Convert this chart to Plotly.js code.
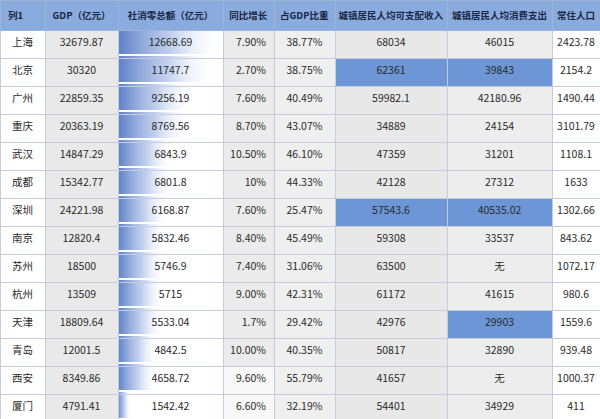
<!DOCTYPE html>
<html><head><meta charset="utf-8">
<script src="https://cdn.plot.ly/plotly-3.0.1.min.js"></script>
<style>html,body{margin:0;padding:0;background:#fff}#chart{width:600px;height:419px}</style>
</head><body><div id="chart"></div>
<script>
const headers = ['列1','GDP（亿元）','社消零总额（亿元）','同比增长','占GDP比重','城镇居民人均可支配收入','城镇居民人均消费支出','常住人口'];
const cities = ['上海','北京','广州','重庆','武汉','成都','深圳','南京','苏州','杭州','天津','青岛','西安','厦门'];
const gdp = ['32679.87','30320','22859.35','20363.19','14847.29','15342.77','24221.98','12820.4','18500','13509','18809.64','12001.5','8349.86','4791.41'];
const retail = [12668.69,11747.7,9256.19,8769.56,6843.9,6801.8,6168.87,5832.46,5746.9,5715,5533.04,4842.5,4658.72,1542.42];
const growth = ['7.90%','2.70%','7.60%','8.70%','10.50%','10%','7.60%','8.40%','7.40%','9.00%','1.7%','10.00%','9.60%','6.60%'];
const share = ['38.77%','38.75%','40.49%','43.07%','46.10%','44.33%','25.47%','45.49%','31.06%','42.31%','29.42%','40.35%','55.79%','32.19%'];
const income = ['68034','62361','59982.1','34889','47359','42128','57543.6','59308','63500','61172','42976','50817','41657','54401'];
const spend = ['46015','39843','42180.96','24154','31201','27312','40535.02','33537','无','41615','29903','32890','无','34929'];
const pop = ['2423.78','2154.2','1490.44','3101.79','1108.1','1633','1302.66','843.62','1072.17','980.6','1559.6','939.48','1000.37','411'];
const highlightIncome = ['北京','深圳'];
const highlightSpend = ['北京','深圳','天津'];

const W = 600, H = 419, headerH = 27, rowH = 28;
const colW = [45,73,105,51,61,112,105,48];
const n = cities.length;
const HL = '#6d96d6';

const fills = [
  cities.map(() => '#ffffff'),
  cities.map(() => '#e9e9e9'),
  cities.map(() => 'rgba(0,0,0,0)'),
  cities.map((c, i) => i < 12 ? '#ebebeb' : '#f8f8f8'),
  cities.map(() => '#efefef'),
  cities.map(c => highlightIncome.includes(c) ? HL : '#e8e8e8'),
  cities.map(c => highlightSpend.includes(c) ? HL : '#ededed'),
  cities.map(() => '#ffffff')
];

const table = {
  type: 'table',
  domain: {x: [0, 1], y: [0, 1]},
  columnwidth: colW,
  header: {
    values: headers.map(h => '<b>' + h + '</b>'),
    height: headerH,
    align: ['left','center','center','center','center','center','center','center'],
    fill: {color: '#8aabdd'},
    line: {color: '#9fb5d8', width: 1},
    font: {family: 'Noto Sans CJK SC', size: 9.5, color: '#1a2744'}
  },
  cells: {
    values: [cities, gdp, retail.map(String), growth, share, income, spend, pop],
    height: rowH,
    align: ['center','center','center','right','center','center','center','center'],
    fill: {color: fills},
    line: {color: '#c3cddc', width: 1},
    font: {family: 'Noto Sans CJK SC', size: 10.5, color: '#2a2a2a'}
  }
};

const half = 0.46;
const barTraces = retail.map((v, i) => ({
  type: 'scatter', mode: 'none', xaxis: 'x', yaxis: 'y',
  x: [0, v, v, 0, 0],
  y: [i - half, i - half, i + half, i + half, i - half],
  fill: 'toself',
  fillgradient: {type: 'horizontal', colorscale: [[0, 'rgba(84,120,196,0.95)'], [0.5, 'rgba(150,175,225,0.6)'], [1, 'rgba(255,255,255,0)']]},
  hoverinfo: 'skip', showlegend: false
}));

const x0 = colW[0] + colW[1];
const x1 = x0 + colW[2];
const layout = {
  width: W, height: H,
  margin: {l: 0, r: 0, t: 0, b: 0},
  paper_bgcolor: '#ffffff',
  plot_bgcolor: 'rgba(0,0,0,0)',
  showlegend: false,
  xaxis: {domain: [x0 / W, x1 / W], range: [0, Math.max(...retail)], visible: false, fixedrange: true},
  yaxis: {domain: [0, (H - headerH) / H], range: [n - 0.5, -0.5], visible: false, fixedrange: true}
};

Plotly.newPlot('chart', [...barTraces, table], layout, {displayModeBar: false, staticPlot: true});
</script></body></html>
